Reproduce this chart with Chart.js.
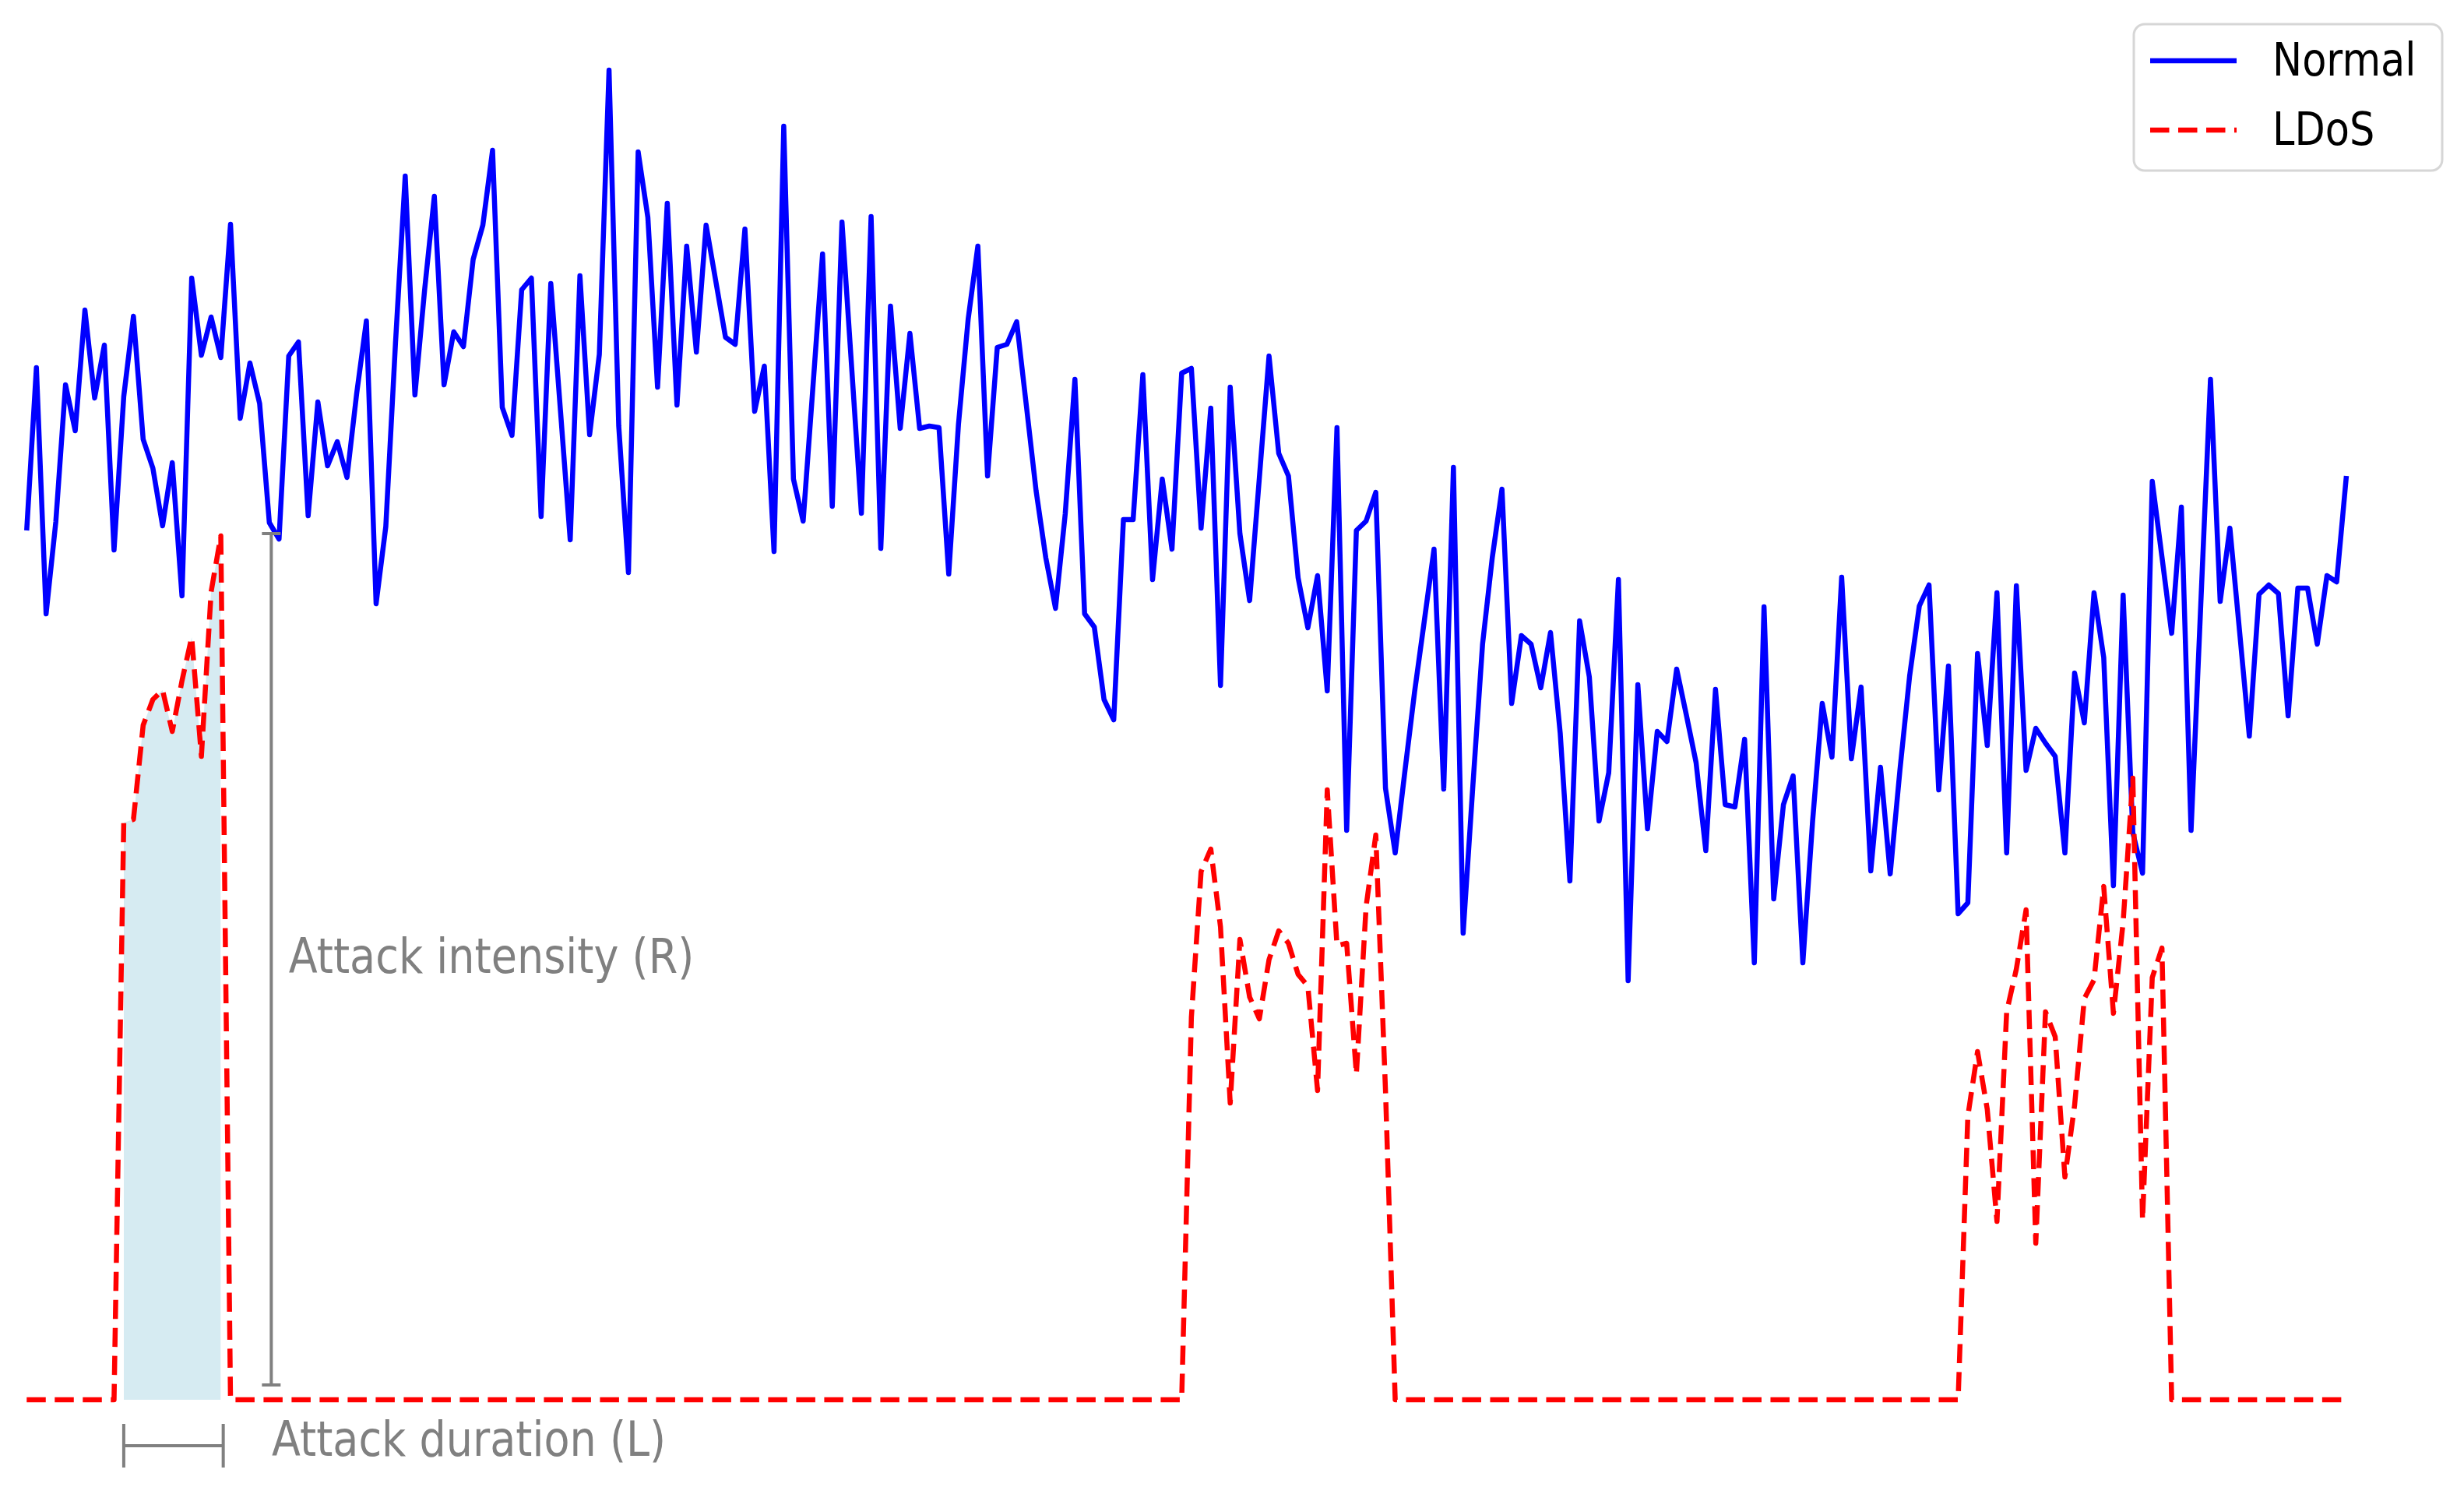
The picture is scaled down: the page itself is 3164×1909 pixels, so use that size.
<!DOCTYPE html>
<html>
<head>
<meta charset="utf-8">
<script src="https://cdn.jsdelivr.net/npm/chart.js@4.4.1/dist/chart.umd.min.js"></script>
<style>
  html, body { margin: 0; padding: 0; background: #fff; }
  #wrap { width: 3164px; height: 1909px; }
</style>
</head>
<body>
<div id="wrap"><canvas id="grafico" width="3164" height="1909"></canvas></div>
<script>
// traffic of the normal flow, one value per time step
const normal = [
  11.16, 13.25, 10.09, 11.27, 13.03, 12.44, 13.99, 12.86, 13.54, 10.91, 12.88, 13.91, 12.33, 11.96, 11.22, 12.03, 10.32, 14.40, 13.41, 13.90,
  13.38, 15.09, 12.60, 13.31, 12.79, 11.26, 11.05, 13.40, 13.58, 11.35, 12.81, 11.99, 12.30, 11.84, 12.92, 13.85, 10.22, 11.21, 13.57, 15.71,
  12.90, 14.25, 15.45, 13.03, 13.71, 13.52, 14.64, 15.08, 16.04, 12.74, 12.38, 14.25, 14.40, 11.34, 14.33, 12.69, 11.04, 14.43, 12.39, 13.42,
  17.07, 12.50, 10.62, 16.02, 15.18, 13.00, 15.36, 12.77, 14.81, 13.45, 15.08, 14.36, 13.64, 13.55, 15.03, 12.69, 13.27, 10.89, 16.35, 11.82,
  11.28, 12.99, 14.71, 11.47, 15.12, 13.25, 11.38, 15.19, 10.93, 14.04, 12.47, 13.69, 12.47, 12.50, 12.48, 10.60, 12.52, 13.87, 14.81, 11.86,
  13.51, 13.55, 13.84, 12.76, 11.67, 10.81, 10.16, 11.37, 13.10, 10.09, 9.92, 8.99, 8.73, 11.30, 11.30, 13.16, 10.53, 11.82, 10.92, 13.18,
  13.24, 11.19, 12.73, 9.17, 13.00, 11.12, 10.26, 11.83, 13.40, 12.15, 11.86, 10.55, 9.91, 10.58, 9.10, 12.48, 7.31, 11.16, 11.28, 11.65,
  7.85, 7.02, 8.07, 9.09, 10.00, 10.92, 7.84, 11.97, 5.99, 7.88, 9.70, 10.81, 11.69, 8.94, 9.81, 9.70, 9.14, 9.85, 8.56, 6.66,
  10.00, 9.28, 7.43, 8.05, 10.53, 5.38, 9.18, 7.33, 8.58, 8.45, 9.38, 8.79, 8.18, 7.05, 9.12, 7.64, 7.61, 8.48, 5.61, 10.18,
  6.43, 7.64, 8.01, 5.61, 7.42, 8.94, 8.25, 10.56, 8.23, 9.15, 6.79, 8.12, 6.75, 8.08, 9.29, 10.19, 10.46, 7.83, 9.42, 6.24,
  6.38, 9.58, 8.40, 10.36, 7.02, 10.45, 8.08, 8.62, 8.43, 8.26, 7.02, 9.33, 8.69, 10.36, 9.53, 6.60, 10.33, 7.28, 6.76, 11.79,
  10.82, 9.84, 11.46, 7.31, 10.21, 13.10, 10.25, 11.19, 9.86, 8.52, 10.34, 10.46, 10.35, 8.78, 10.42, 10.42, 9.70, 10.58, 10.50, 11.86
];

// low-rate DoS traffic (three bursts)
const ldos = [
  0, 0, 0, 0, 0, 0, 0, 0, 0, 0, 7.41, 7.45, 8.66, 8.99, 9.11, 8.58, 9.23, 9.79, 8.26, 10.37,
  11.09, 0, 0, 0, 0, 0, 0, 0, 0, 0, 0, 0, 0, 0, 0, 0, 0, 0, 0, 0,
  0, 0, 0, 0, 0, 0, 0, 0, 0, 0, 0, 0, 0, 0, 0, 0, 0, 0, 0, 0,
  0, 0, 0, 0, 0, 0, 0, 0, 0, 0, 0, 0, 0, 0, 0, 0, 0, 0, 0, 0,
  0, 0, 0, 0, 0, 0, 0, 0, 0, 0, 0, 0, 0, 0, 0, 0, 0, 0, 0, 0,
  0, 0, 0, 0, 0, 0, 0, 0, 0, 0, 0, 0, 0, 0, 0, 0, 0, 0, 0, 0,
  4.91, 6.78, 7.07, 6.07, 3.81, 5.91, 5.17, 4.89, 5.65, 6.02, 5.86, 5.46, 5.31, 3.97, 7.83, 5.83, 5.86, 4.18, 6.33, 7.25,
  3.97, 0, 0, 0, 0, 0, 0, 0, 0, 0, 0, 0, 0, 0, 0, 0, 0, 0, 0, 0,
  0, 0, 0, 0, 0, 0, 0, 0, 0, 0, 0, 0, 0, 0, 0, 0, 0, 0, 0, 0,
  0, 0, 0, 0, 0, 0, 0, 0, 0, 0, 0, 0, 0, 0, 0, 0, 0, 0, 0, 0,
  3.64, 4.47, 3.73, 2.29, 4.98, 5.53, 6.29, 2.01, 4.98, 4.66, 2.86, 3.78, 5.15, 5.39, 6.59, 4.96, 6.13, 7.98, 2.31, 5.42,
  5.80, 0, 0, 0, 0, 0, 0, 0, 0, 0, 0, 0, 0, 0, 0, 0, 0, 0, 0, 0
];

const seriesNames = ["Normal", "LDoS"];
const attackStart = 10;   // first burst, shaded
const attackEnd = 20;

const textStretch = 1.15;
const grey = "#808080";

const shaded = ldos.map((v, i) => (i >= attackStart && i <= attackEnd) ? v : null);
const toPoints = arr => arr.map((v, i) => ({ x: i, y: v }));

function stretchedText(ctx, txt, x, y) {
  ctx.save();
  ctx.translate(x, y);
  ctx.scale(1, textStretch);
  ctx.fillText(txt, 0, 0);
  ctx.restore();
}

// R and L markers
const annotations = {
  id: "annotations",
  afterDatasetsDraw(chart) {
    const { ctx, scales: { x, y } } = chart;
    const peak = Math.max(...ldos.slice(attackStart, attackEnd + 1));
    ctx.save();
    ctx.strokeStyle = grey;
    ctx.lineWidth = 4;

    // attack intensity
    const rx = x.getPixelForValue(25.2);
    const top = y.getPixelForValue(peak) - 3;
    const bot = y.getPixelForValue(0) - 19;
    ctx.beginPath();
    ctx.moveTo(rx, top); ctx.lineTo(rx, bot);
    ctx.moveTo(rx - 12, top); ctx.lineTo(rx + 12, top);
    ctx.moveTo(rx - 12, bot); ctx.lineTo(rx + 12, bot);
    ctx.stroke();

    // attack duration
    const x0 = x.getPixelForValue(attackStart);
    const x1 = x.getPixelForValue(attackEnd + 0.25);
    const ly = y.getPixelForValue(-0.59);
    ctx.beginPath();
    ctx.moveTo(x0, ly); ctx.lineTo(x1, ly);
    ctx.moveTo(x0, ly - 28); ctx.lineTo(x0, ly + 28);
    ctx.moveTo(x1, ly - 28); ctx.lineTo(x1, ly + 28);
    ctx.stroke();

    ctx.fillStyle = grey;
    ctx.font = "54px 'DejaVu Sans'";
    ctx.textBaseline = "middle";
    ctx.textAlign = "left";
    stretchedText(ctx, "Attack intensity (R)", x.getPixelForValue(27.0), y.getPixelForValue(5.64));
    stretchedText(ctx, "Attack duration (L)", x.getPixelForValue(25.25), y.getPixelForValue(-0.56));
    ctx.restore();
  }
};

// boxed legend, top right
const boxLegend = {
  id: "boxLegend",
  afterDraw(chart) {
    const ctx = chart.ctx;
    const items = seriesNames.map(n => chart.data.datasets.find(d => d.label === n));
    ctx.save();
    ctx.beginPath();
    ctx.roundRect(2740, 31, 396, 188, 14);
    ctx.fillStyle = "rgba(255,255,255,0.8)";
    ctx.fill();
    ctx.strokeStyle = "#d6d6d6";
    ctx.lineWidth = 3;
    ctx.stroke();

    items.forEach((d, k) => {
      const yy = 78 + k * 89;
      ctx.beginPath();
      ctx.strokeStyle = d.borderColor;
      ctx.lineWidth = d.borderWidth;
      ctx.setLineDash(d.borderDash || []);
      ctx.lineCap = "butt";
      ctx.moveTo(2761, yy); ctx.lineTo(2872, yy);
      ctx.stroke();
      ctx.setLineDash([]);
      ctx.fillStyle = "#000";
      ctx.font = "51px 'DejaVu Sans'";
      ctx.textBaseline = "alphabetic";
      stretchedText(ctx, d.label, 2918, yy + 19);
    });
    ctx.restore();
  }
};

new Chart(document.getElementById("grafico").getContext("2d"), {
  type: "line",
  data: {
    datasets: [
      {
        label: seriesNames[1],
        data: toPoints(ldos),
        borderColor: "#ff0000",
        borderWidth: 6.5,
        borderDash: [24.5, 11.5],
        borderJoinStyle: "round",
        pointRadius: 0,
        tension: 0,
        fill: false,
        order: 0
      },
      {
        label: seriesNames[0],
        data: toPoints(normal),
        borderColor: "#0000ff",
        borderWidth: 6.5,
        borderJoinStyle: "round",
        pointRadius: 0,
        tension: 0,
        fill: false,
        order: 1
      },
      {
        data: toPoints(shaded),
        borderWidth: 0,
        borderColor: "rgba(0,0,0,0)",
        backgroundColor: "rgba(173,216,230,0.5)",
        pointRadius: 0,
        tension: 0,
        spanGaps: false,
        fill: "origin",
        order: 2
      }
    ]
  },
  options: {
    responsive: false,
    animation: false,
    devicePixelRatio: 1,
    layout: { padding: 0 },
    plugins: {
      legend: { display: false },
      tooltip: { enabled: false }
    },
    scales: {
      x: { type: "linear", display: false, min: -2.75, max: 251.12 },
      y: { display: false, min: -1.12, max: 17.97 }
    }
  },
  plugins: [annotations, boxLegend]
});
</script>
</body>
</html>
